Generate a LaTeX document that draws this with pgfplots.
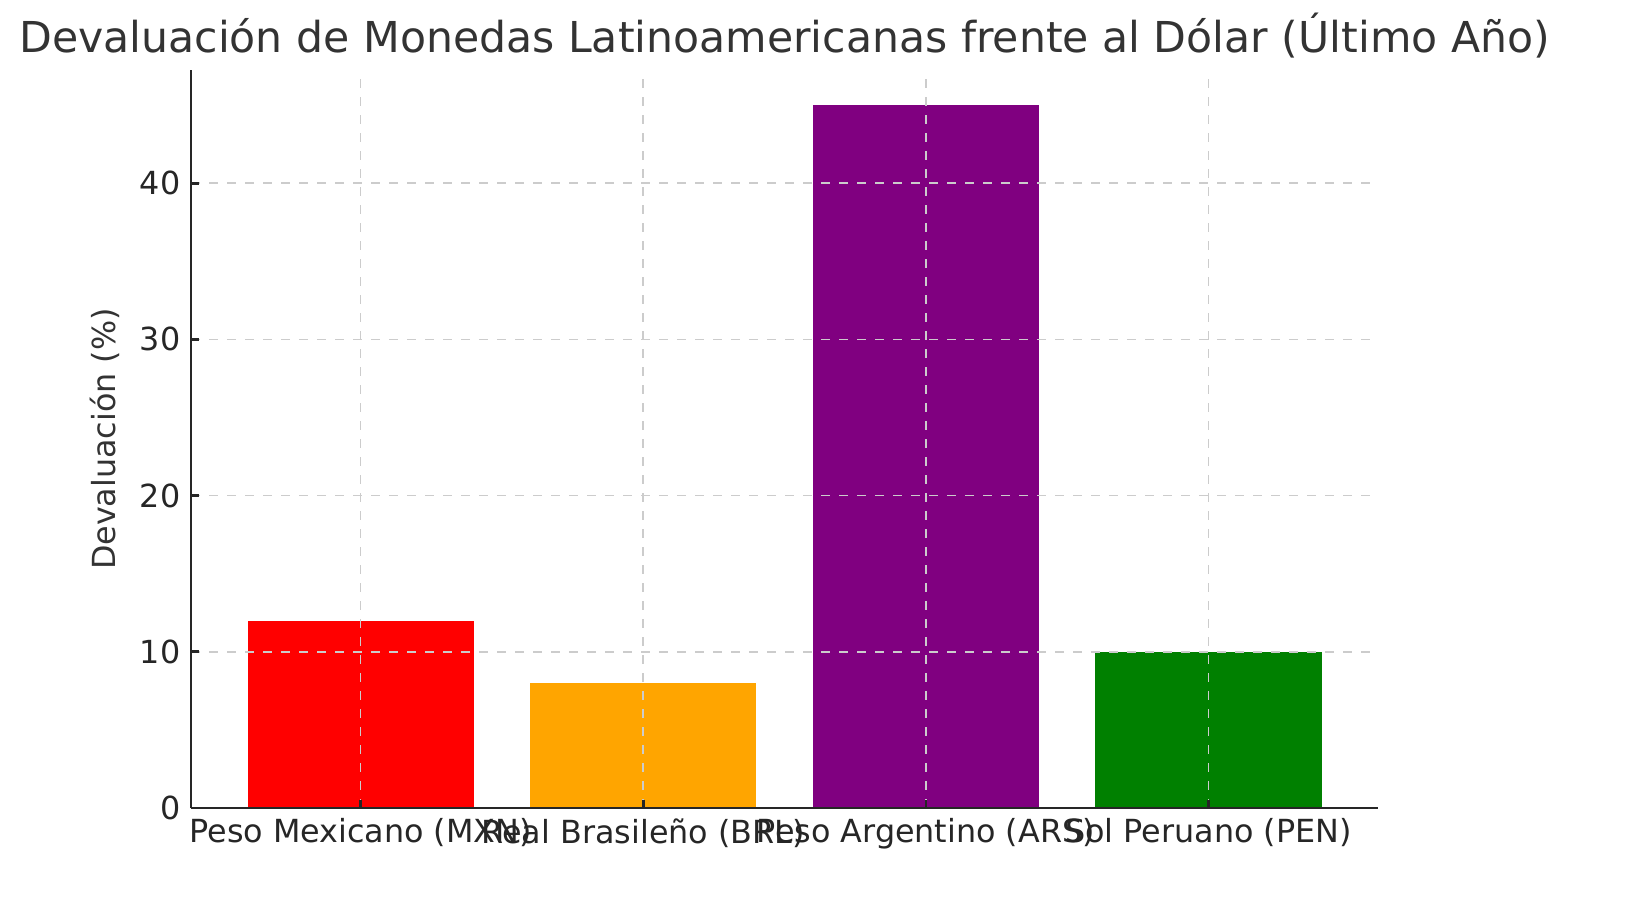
\documentclass[border=0pt]{standalone}
\usepackage{fontspec}
\setmainfont{DejaVu Sans}
\usepackage{pgfplots}
\pgfplotsset{compat=1.18}
\definecolor{txt}{HTML}{333333}
\definecolor{gridc}{HTML}{CCCCCC}
\begin{document}
\begin{tikzpicture}
\path[use as bounding box] (-63.67pt,-33pt) rectangle (482pt,269.33pt);
\begin{axis}[
    at={(0,0)}, anchor=south west,
    scale only axis,
    width=395.7pt, height=246pt,
    ybar, bar shift=0pt, bar width=0.8,
    xmin=-0.6, xmax=3.6,
    ymin=0, ymax=47.25,
    xtick={0,1,2,3},
    xticklabels={Peso Mexicano (MXN), Real Brasileño (BRL), Peso Argentino (ARS), Sol Peruano (PEN)},
    ytick={0,10,20,30,40},
    axis x line*=bottom, axis y line*=left,
    axis line style={color=black!85, line width=0.9pt},
    tick align=inside,
    major tick length=2.7pt,
    tick style={color=black!85, line width=0.9pt},
    grid=major,
    major grid style={dashed, color=gridc, line width=0.5pt},
    axis on top,
    ticklabel style={font=\fontsize{10.6}{12}\selectfont, color=black!85},
    /pgf/number format/assume math mode=true,
    ylabel={Devaluación (\%)},
    ylabel style={font=\fontsize{10.6}{12}\selectfont, color=txt},
    title={Devaluación de Monedas Latinoamericanas frente al Dólar (Último Año)},
    title style={font=\fontsize{14.2}{16}\selectfont, color=txt, yshift=-5.7pt},
]
\addplot[fill=red, draw=none] coordinates {(0,12)};
\addplot[fill={rgb,255:red,255;green,165;blue,0}, draw=none] coordinates {(1,8)};
\addplot[fill={rgb,255:red,128;green,0;blue,128}, draw=none] coordinates {(2,45)};
\addplot[fill={rgb,255:red,0;green,128;blue,0}, draw=none] coordinates {(3,10)};
\end{axis}
\end{tikzpicture}
\end{document}
